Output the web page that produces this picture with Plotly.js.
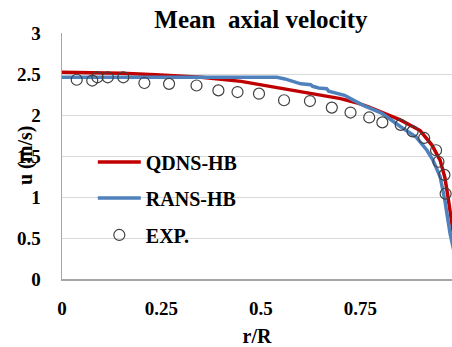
<!DOCTYPE html>
<html>
<head>
<meta charset="utf-8">
<script src="https://cdn.plot.ly/plotly-3.0.1.min.js"></script>
<style>html,body{margin:0;padding:0;background:#fff;}#chart{width:452px;height:347px;}</style>
</head>
<body>
<div id="chart"></div>
<script>
// QDNS-HB
const qdnsR = [0, 0.15, 0.235, 0.35, 0.45, 0.5, 0.555, 0.6, 0.625, 0.7, 0.74, 0.77, 0.81, 0.85, 0.9, 0.93, 0.95, 0.962, 0.97, 0.978, 1.0];
const qdnsU = [2.52, 2.51, 2.49, 2.46, 2.41, 2.37, 2.32, 2.29, 2.26, 2.2, 2.15, 2.1, 2.02, 1.94, 1.81, 1.63, 1.45, 1.24, 1.0, 0.72, 0.0];
// RANS-HB
const ransR = [0, 0.54, 0.56, 0.59, 0.6, 0.625, 0.63, 0.645, 0.665, 0.67, 0.7, 0.71, 0.725, 0.75, 0.76, 0.8, 0.81, 0.85, 0.89, 0.917, 0.932, 0.95, 0.962, 0.975, 0.98, 1.0];
const ransU = [2.46, 2.46, 2.44, 2.4, 2.38, 2.37, 2.35, 2.33, 2.32, 2.29, 2.26, 2.24, 2.2, 2.13, 2.11, 2.03, 2.0, 1.86, 1.73, 1.57, 1.45, 1.25, 0.96, 0.56, 0.45, 0.0];
// EXP.
const expR = [0.037, 0.076, 0.089, 0.115, 0.154, 0.207, 0.269, 0.338, 0.393, 0.441, 0.495, 0.558, 0.623, 0.678, 0.725, 0.772, 0.805, 0.851, 0.881, 0.91, 0.94, 0.946, 0.961, 0.964];
const expU = [2.43, 2.42, 2.46, 2.46, 2.46, 2.39, 2.38, 2.36, 2.30, 2.28, 2.26, 2.18, 2.17, 2.09, 2.03, 1.97, 1.91, 1.88, 1.80, 1.72, 1.57, 1.43, 1.27, 1.04];

const xTickVals = [0, 0.25, 0.5, 0.75];
const xTickText = ['0', '0.25', '0.5', '0.75'];
const yTickVals = [0, 0.5, 1, 1.5, 2, 2.5, 3];
const yTickText = ['0', '0.5', '1', '1.5', '2', '2.5', '3'];

const b = s => '<b>' + s + '</b>';
const serif = 'Liberation Serif';
const legFont = {family: serif, size: 20, color: '#000'};

const traces = [
  {x: qdnsR, y: qdnsU, name: b('QDNS-HB'), mode: 'lines', line: {color: '#c00000', width: 3.5}, legend: 'legend'},
  {x: ransR, y: ransU, name: b('RANS-HB'), mode: 'lines', line: {color: '#4f81bd', width: 3.5}, legend: 'legend2'},
  {x: expR, y: expU, name: b('EXP.'), mode: 'markers', marker: {symbol: 'circle-open', size: 11, color: '#404040', line: {width: 1.2, color: '#404040'}}, legend: 'legend3'}
];

function leg(y) {
  return {x: 0.079, y: y, xanchor: 'left', yanchor: 'middle', bgcolor: 'rgba(0,0,0,0)', borderwidth: 0, font: legFont, itemwidth: 43};
}

const layout = {
  width: 452, height: 347,
  margin: {l: 62, r: 0, t: 33, b: 68},
  paper_bgcolor: '#fff', plot_bgcolor: '#fff',
  title: {text: b('Mean  axial velocity'), font: {family: serif, size: 25, color: '#000'}, x: 0.51, xanchor: 'center', xref: 'paper', y: 0.945, yanchor: 'middle', yref: 'container'},
  xaxis: {
    range: [0, 0.98], tickvals: xTickVals, ticktext: xTickText.map(b),
    showgrid: false, zeroline: false, showline: true, linecolor: '#a6a6a6', linewidth: 1.5,
    ticks: '', ticklabelstandoff: 12,
    tickfont: {family: serif, size: 19, color: '#000'},
    title: {text: b('r/R'), font: {family: serif, size: 20, color: '#000'}, standoff: 14}
  },
  yaxis: {
    range: [0, 3], tickvals: yTickVals, ticktext: yTickText.map(b),
    showgrid: true, gridcolor: '#d9d9d9', gridwidth: 1, zeroline: false,
    showline: true, linecolor: '#a6a6a6', linewidth: 1.5,
    ticks: '', ticklabelstandoff: 16,
    tickfont: {family: serif, size: 19, color: '#000'}
  },
  annotations: [
    {text: b('u (m/s)'), textangle: -90, xref: 'paper', yref: 'paper', x: 0, y: 0.5, xanchor: 'center', yanchor: 'middle', xshift: -37, showarrow: false,
     font: {family: serif, size: 20, color: '#000'}}
  ],
  showlegend: true,
  legend: leg(0.476),
  legend2: leg(0.329),
  legend3: leg(0.179)
};

Plotly.newPlot('chart', traces, layout, {displayModeBar: false, staticPlot: true});
</script>
</body>
</html>
